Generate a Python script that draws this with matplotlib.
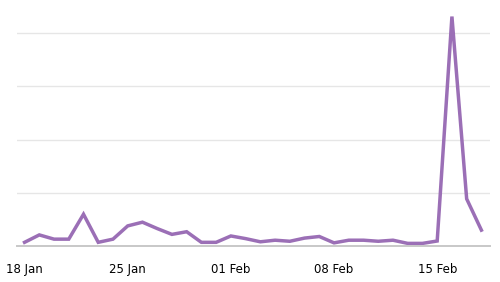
import numpy as np
import pandas as pd
import matplotlib
matplotlib.use("Agg")
import matplotlib.pyplot as plt
import matplotlib.dates as mdates

# daily values, 18 Jan -> 18 Feb
dates = pd.date_range("2014-01-18", "2014-02-18", freq="D")
values = [0.6, 2.0, 1.2, 1.2, 5.9, 0.6, 1.2, 3.7, 4.4, 3.2, 2.1, 2.6,
          0.6, 0.6, 1.8, 1.3, 0.7, 1.0, 0.8, 1.4, 1.7, 0.5, 1.0, 1.0,
          0.8, 1.0, 0.4, 0.4, 0.85, 43.2, 8.8, 2.9]
tick_dates = pd.to_datetime(["2014-01-18", "2014-01-25", "2014-02-01",
                             "2014-02-08", "2014-02-15"])
tick_labels = ["18 Jan", "25 Jan", "01 Feb", "08 Feb", "15 Feb"]

fig = plt.figure(figsize=(5, 2.82), dpi=100)
ax = fig.add_axes([0.034, 0.1294, 0.946, 0.827])

ax.plot(dates, values, color="#9b6fb6", lw=2.5, solid_joinstyle="miter")

ax.set_ylim(0, 44)
ax.set_yticks([10, 20, 30, 40])
ax.yaxis.grid(True, color="#e6e6e6", lw=1)
ax.set_axisbelow(True)
ax.set_xlim(dates[0] - pd.Timedelta(hours=12.3), dates[-1] + pd.Timedelta(hours=14))
ax.set_xticks(tick_dates)
ax.set_xticklabels(tick_labels)
ax.tick_params(axis="both", length=0, labelsize=8.5, pad=12.5, colors="black")
ax.tick_params(axis="y", labelleft=False)

for s in ["top", "right", "left"]:
    ax.spines[s].set_visible(False)
ax.spines["bottom"].set_color("#c8c8c8")
ax.spines["bottom"].set_linewidth(1.4)

fig.savefig("out.png", dpi=100)
